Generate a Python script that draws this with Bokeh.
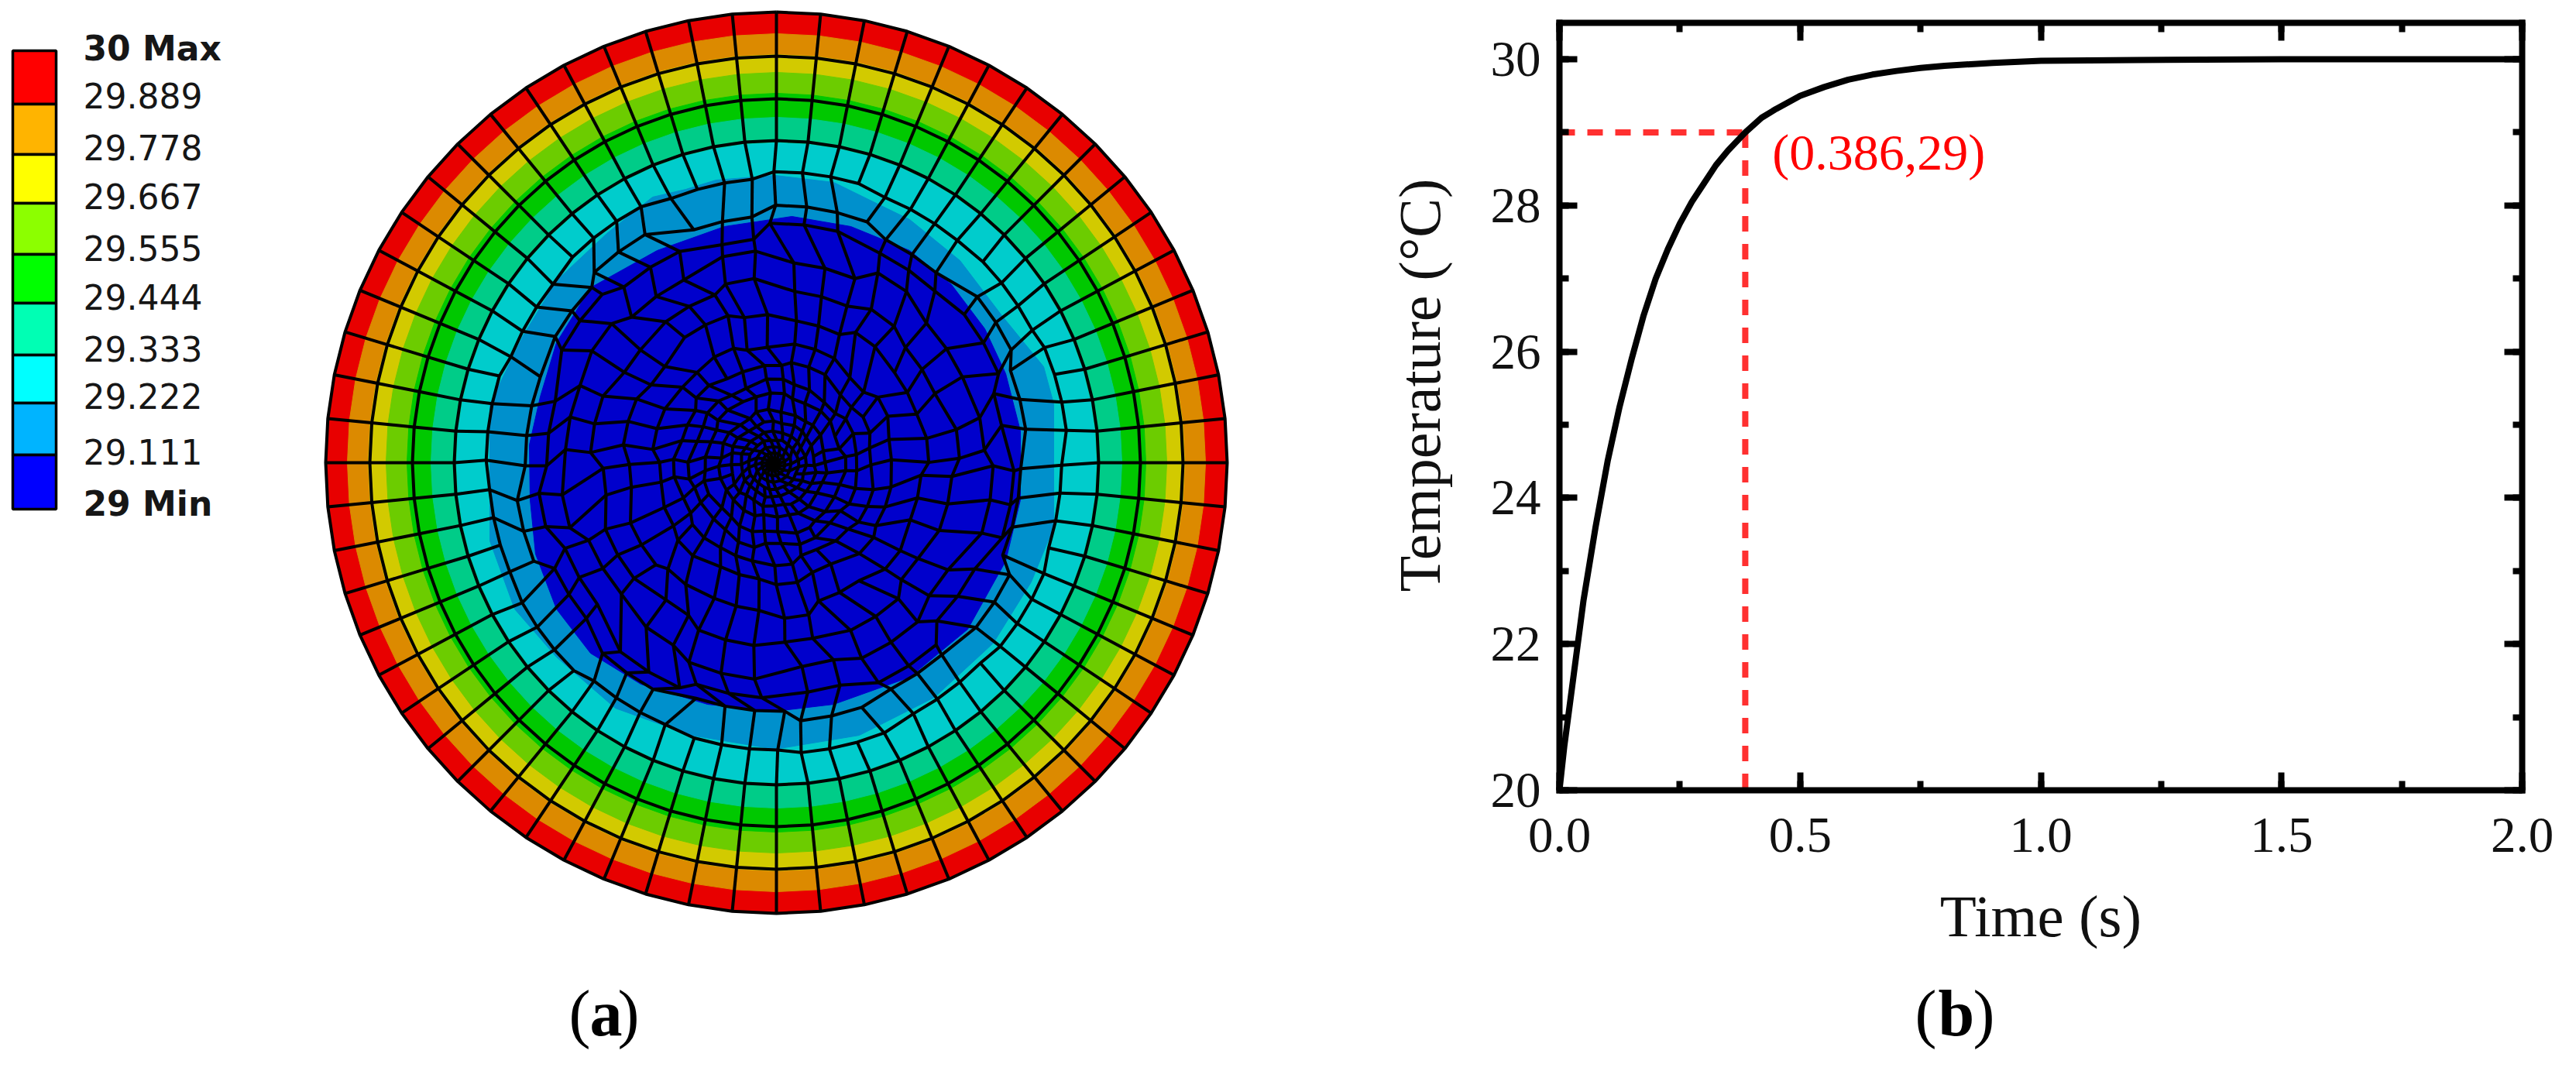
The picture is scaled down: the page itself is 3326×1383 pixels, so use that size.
import numpy as np
from bokeh.embed import file_html
from bokeh.models import Label, LinearAxis, Range1d, SingleIntervalTicker, PrintfTickFormatter
from bokeh.plotting import figure
from bokeh.resources import INLINE

# ---------- panel (a): legend ----------
legend_labels = ["30 Max", "29.889", "29.778", "29.667", "29.555", "29.444", "29.333", "29.222", "29.111", "29 Min"]
legend_label_y = [70, 131, 198, 261, 328, 391, 458, 519, 591, 658]
legend_edges = [73, 142, 207, 270, 336, 399, 466, 528, 595, 665]
legend_colors = ["#ff0000", "#ffb400", "#ffff00", "#8cff00", "#00ff00", "#00ffb4", "#00ffff", "#00b4ff", "#0000ff"]

# ---------- panel (a): contour bands (radius in image px, outer to inner) ----------
band_colors = ["#e80000", "#dc8a00", "#d2ca00", "#6ccc00", "#00c800", "#00cc88", "#00cccc"]
band_radii = [582, 554, 527, 504, 477, 446, 413]
blue_color = "#0090cc"
blue_x = [1008, 1084, 1143, 1182, 1247, 1301, 1355, 1368, 1368, 1368, 1339, 1290, 1214, 1117, 1008, 900, 802, 726, 672, 640, 640, 640, 683, 726, 791, 850, 893, 932]
blue_y = [234, 243, 272, 291, 344, 415, 481, 529, 609, 688, 759, 838, 908, 957, 975, 957, 922, 856, 794, 706, 609, 529, 441, 370, 309, 262, 252, 240]
deep_color = "#0000cc"
deep_x = [1030, 1106, 1182, 1236, 1279, 1306, 1325, 1325, 1306, 1257, 1182, 1084, 1008, 921, 835, 770, 726, 699, 692, 691, 705, 726, 770, 856, 943]
deep_y = [287, 300, 331, 375, 432, 490, 564, 653, 732, 820, 882, 917, 926, 917, 891, 851, 794, 723, 653, 582, 520, 450, 379, 331, 300]

# ---------- panel (a): mesh rings ----------
ring_radius = [582, 525, 470, 416, 372, 328, 303, 271, 231, 194, 154, 128, 107, 90, 69, 55, 42, 32, 23, 15, 8]
ring_spokes = [64, 64, 64, 64, 64, 52, 44, 40, 40, 40, 36, 36, 32, 32, 28, 28, 24, 24, 16, 16, 16]
ring_twist = [0, 0, 0, 0, 0, 0, 1, 3, 5, 7, 9, 12, 15, 18, 22, 26, 31, 37, 44, 52, 60]
ring_cx = [1010, 1010, 1010, 1010, 1010, 1009, 1009, 1008, 1008, 1008, 1007, 1007, 1007, 1007, 1006, 1006, 1006, 1006, 1006, 1006, 1006]
ring_cy = [605, 605, 605, 605, 605, 605, 606, 606, 606, 606, 606, 607, 607, 607, 607, 607, 607, 607, 607, 607, 607]
ring_irregularity = [0, 0, 0, 0, 0.25, 0.7, 0.8, 0.8, 0.8, 0.8, 0.8, 0.8, 0.8, 0.8, 0.8, 0.8, 0.7, 0.6, 0.5, 0.4, 0.3]
node_radial_shift = [0.03, -0.03, 0.02, -0.05, 0.04, -0.02, 0.0, 0.05, -0.04, 0.02, -0.03, 0.04, -0.01, -0.05, 0.03, 0.0]
node_angle_shift = [2, -3, 1, 3, -2, -1, 3, -3, 2, 0, -2, 3, -1, 2, -3, 1]

# ---------- panel (b): heating curve ----------
time_s = [0, 0.005, 0.01, 0.02, 0.03, 0.05, 0.075, 0.1, 0.125, 0.15, 0.175, 0.2, 0.225, 0.25, 0.275, 0.3, 0.325, 0.35, 0.386, 0.42, 0.45, 0.5, 0.55, 0.6, 0.65, 0.7, 0.75, 0.8, 0.9, 1.0, 1.2, 1.5, 2.0]
temperature = [20, 20.3, 20.6, 21.1, 21.6, 22.6, 23.6, 24.5, 25.25, 25.9, 26.5, 27.0, 27.4, 27.75, 28.05, 28.3, 28.55, 28.75, 29.0, 29.2, 29.32, 29.5, 29.62, 29.72, 29.79, 29.84, 29.88, 29.91, 29.95, 29.98, 29.99, 30, 30]
marker_t = 0.386
marker_T = 29
x_ticks_interval = 0.5
y_ticks_interval = 2
t_limits = (0, 2)
T_limits = (20, 30.5)

SERIF = "Liberation Serif"
SANS = "DejaVu Sans"

# one canvas: primary ranges are image pixels, panel (b) has its own ranges
frame_left, frame_right, frame_top, frame_bottom = 2021, 3264, 37, 1028
t_per_px = (t_limits[1] - t_limits[0]) / (frame_right - frame_left)
T_per_px = 10 / 944
p = figure(width=3310, height=1367, output_backend="svg", toolbar_location=None,
           x_range=Range1d(8, 3318), y_range=Range1d(1375, 8), min_border=0)
p.extra_x_ranges["t"] = Range1d((8 - frame_left) * t_per_px, (3318 - frame_left) * t_per_px)
p.extra_y_ranges["T"] = Range1d(20 + (frame_bottom - 1375) * T_per_px, 20 + (frame_bottom - 8) * T_per_px)
p.axis.visible = False
p.grid.visible = False
p.outline_line_color = None

# legend bar
p.quad(left=[24] * 9, right=[80] * 9, top=legend_edges[:-1], bottom=legend_edges[1:],
       fill_color=legend_colors, line_color="black", line_width=3.5)
for text, y in zip(legend_labels, legend_label_y):
    p.add_layout(Label(x=115, y=y, text=text, text_font=SANS, text_font_size="44px",
                       text_font_style="bold" if ("M" in text) else "normal",
                       text_color="#161616", text_baseline="middle", text_align="left"))

# contour bands
theta = np.deg2rad(np.arange(0, 360, 360 / 64))
for r, c in zip(band_radii, band_colors):
    p.patch(1010 + r * np.sin(theta), 605 - r * np.cos(theta), fill_color=c, line_color=c, line_width=1)
p.patch(blue_x, blue_y, fill_color=blue_color, line_color=blue_color, line_width=1)
p.patch(deep_x, deep_y, fill_color=deep_color, line_color=deep_color, line_width=1)

# mesh
def ring_pts(i):
    n = ring_spokes[i]
    base = 2 * np.pi * np.arange(n) / n
    k = ring_irregularity[i]
    idx = (np.arange(n) * 16 // n + 5 * i) % 16
    rad = ring_radius[i] * (1 + k * np.array(node_radial_shift)[idx])
    a = base + np.deg2rad(ring_twist[i] + k * np.array(node_angle_shift)[idx])
    return ring_cx[i] + rad * np.sin(a), ring_cy[i] - rad * np.cos(a), base

xs, ys = [], []
for i in range(len(ring_radius)):
    x, y, a = ring_pts(i)
    xs.append(list(x) + [x[0]])
    ys.append(list(y) + [y[0]])
    if i + 1 < len(ring_radius):
        x2, y2, a2 = ring_pts(i + 1)
        for j in range(len(a2)):
            d = np.abs((a - a2[j] + np.pi) % (2 * np.pi) - np.pi)
            k = int(np.argmin(d))
            xs.append([x[k], x2[j]])
            ys.append([y[k], y2[j]])
    else:
        for j in range(len(a)):
            xs.append([x[j], ring_cx[i]])
            ys.append([y[j], ring_cy[i]])
p.multi_line(xs, ys, line_color="black", line_width=4)

# panel caption (a)
for text, off, style in [("(", 742, "normal"), ("a", 769, "bold"), (")", 805, "normal")]:
    p.add_layout(Label(x=off, y=1316, text=text, text_font=SERIF, text_font_size="84px",
                       text_font_style=style, text_color="black", text_baseline="middle"))

# panel (b) axes
def make_axis(interval, fixed, bounds, labelled):
    ax = LinearAxis(ticker=SingleIntervalTicker(interval=interval, num_minor_ticks=2),
                    x_range_name="t", y_range_name="T", fixed_location=fixed, bounds=bounds)
    ax.axis_line_width = 8
    ax.axis_line_color = "black"
    ax.axis_line_cap = "square"
    ax.major_tick_line_width = 8
    ax.minor_tick_line_width = 8
    ax.major_tick_line_color = "black"
    ax.minor_tick_line_color = "black"
    ax.major_tick_in = 23
    ax.major_tick_out = 0
    ax.minor_tick_in = 12
    ax.minor_tick_out = 0
    ax.major_label_text_font = SERIF
    ax.major_label_text_font_size = "65px"
    ax.major_label_text_color = "#111111" if labelled else None
    ax.axis_label_text_font = SERIF
    ax.axis_label_text_font_size = "77px"
    ax.axis_label_text_font_style = "normal"
    ax.axis_label_text_color = "#111111"
    return ax

xb = make_axis(x_ticks_interval, T_limits[0], t_limits, True)
xb.formatter = PrintfTickFormatter(format="%.1f")
xb.major_label_standoff = 36
xb.axis_label = "Time (s)"
xb.axis_label_standoff = 37
p.add_layout(xb, "below")
yl = make_axis(y_ticks_interval, t_limits[0], T_limits, True)
yl.formatter = PrintfTickFormatter(format="%d")
yl.major_label_standoff = 24
p.add_layout(yl, "left")
p.add_layout(make_axis(x_ticks_interval, T_limits[1], t_limits, False), "above")
p.add_layout(make_axis(y_ticks_interval, t_limits[1], T_limits, False), "right")

red = "#ff3030"
p.line([0, marker_t], [marker_T, marker_T], x_range_name="t", y_range_name="T",
       line_color=red, line_width=8, line_dash=[20, 16])
p.line([marker_t, marker_t], [marker_T, 20], x_range_name="t", y_range_name="T",
       line_color=red, line_width=8, line_dash=[20, 16])
p.line(time_s, temperature, x_range_name="t", y_range_name="T", line_color="black", line_width=8, line_join="round")

p.add_layout(Label(x=0.442, y=28.73, x_range_name="t", y_range_name="T", text=f"({marker_t},{marker_T})",
                   text_font=SERIF, text_font_size="66px", text_color="#ff0000",
                   text_baseline="middle", text_align="left"))
p.add_layout(Label(x=1840, y=505, text="Temperature (°C)", text_font=SERIF, text_font_size="76px",
                   text_color="#111111", text_baseline="middle", text_align="center", angle=np.pi / 2))

for text, off, style in [("(", 2480, "normal"), ("b", 2510, "bold"), (")", 2555, "normal")]:
    p.add_layout(Label(x=off, y=1316, text=text, text_font=SERIF, text_font_size="84px",
                       text_font_style=style, text_color="black", text_baseline="middle"))

open("out.html", "w").write(file_html(p, INLINE))
